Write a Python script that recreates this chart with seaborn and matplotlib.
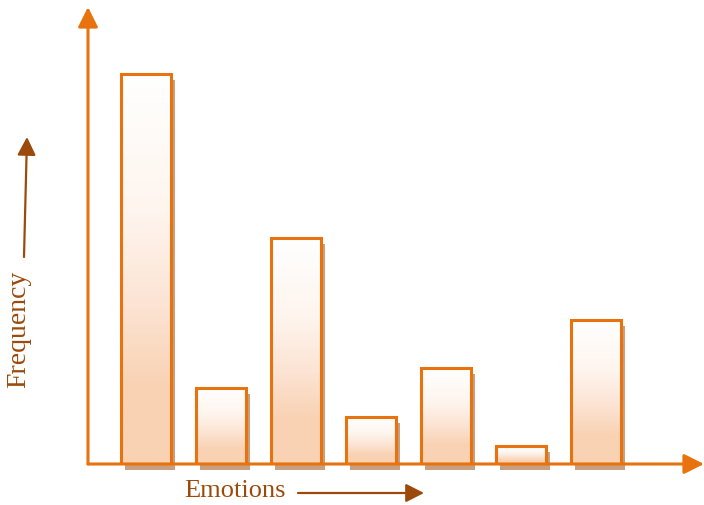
import numpy as np
import matplotlib
matplotlib.use("Agg")
import matplotlib.pyplot as plt
import matplotlib.transforms as mtransforms
from matplotlib.colors import LinearSegmentedColormap
from matplotlib.patches import Rectangle, FancyArrowPatch
import seaborn as sns

# Frequency of each emotion category
emotions = ["E1", "E2", "E3", "E4", "E5", "E6", "E7"]
frequency = [100, 19.5, 58, 12, 24.5, 4.5, 37]

ORANGE = "#e8720e"
BROWN = "#9c4a0b"
PEACH = "#f9d2b3"
SHADOW = "#c8a080"

sns.set_theme(style="white")
plt.rcParams["font.family"] = ["Liberation Serif", "DejaVu Serif"]

W, H = 704, 506
fig = plt.figure(figsize=(W / 100, H / 100), dpi=100)
fig.patch.set_facecolor("white")
ax = fig.add_axes([88 / W, 41 / H, (W - 88) / W, (465 - 8) / H])

sns.barplot(x=emotions, y=frequency, ax=ax, width=0.667, color="white",
            saturation=1, edgecolor=ORANGE, linewidth=2.2, zorder=3)

xlim = (-0.773, 7.44)
ylim = (0, 117.2)

# white-to-peach vertical gradient inside each bar, plus a soft drop shadow
cmap = LinearSegmentedColormap.from_list(
    "peach", [(0, "#ffffff"), (0.35, "#fef5ee"), (0.6, "#fce3d2"), (0.8, PEACH), (1, PEACH)])
grad = np.linspace(0, 1, 256).reshape(-1, 1)
shadow_tr = mtransforms.offset_copy(ax.transData, fig=fig, x=4, y=-6, units="dots")
for bar in list(ax.patches):
    x0, w, h = bar.get_x(), bar.get_width(), bar.get_height()
    bar.set_facecolor("none")
    ax.add_patch(Rectangle((x0, 0), w, h, transform=shadow_tr, facecolor=SHADOW,
                           edgecolor="none", zorder=1, clip_on=False))
    im = ax.imshow(grad, extent=(x0, x0 + w, 0, h), cmap=cmap, aspect="auto",
                   zorder=2, origin="upper", interpolation="bilinear")
    im.set_clip_path(bar)

ax.set_xlim(*xlim)
ax.set_ylim(*ylim)
ax.set_xticks([])
ax.set_yticks([])
ax.set_xlabel("")
ax.set_ylabel("")
for s in ax.spines.values():
    s.set_visible(False)

# axis arrows
axis_arrow = dict(arrowstyle="-|>,head_length=0.6,head_width=0.3", color=ORANGE,
                  lw=2.2, shrinkA=0, shrinkB=0, mutation_scale=20)
ax.annotate("", xy=(0, 1), xytext=(0, 0), xycoords="axes fraction",
            arrowprops=axis_arrow, annotation_clip=False, zorder=5)
ax.annotate("", xy=(1, 0), xytext=(0, 0), xycoords="axes fraction",
            arrowprops=axis_arrow, annotation_clip=False, zorder=5)

# label arrows
label_arrow = dict(arrowstyle="-|>,head_length=0.55,head_width=0.28", color=BROWN,
                   lw=1.6, shrinkA=0, shrinkB=0, mutation_scale=20)
fig.add_artist(FancyArrowPatch((298, H - 494), (424, H - 494), transform=None, **label_arrow))
fig.add_artist(FancyArrowPatch((24, H - 258), (27, H - 138), transform=None, **label_arrow))

fig.text(235 / W, (H - 491) / H, "Emotions", color=BROWN, fontsize=19,
         ha="center", va="center")
fig.text(19 / W, (H - 329) / H, "Frequency", color=BROWN, fontsize=20,
         ha="center", va="center", rotation=90)

fig.savefig("out.png", dpi=100, facecolor="white")
